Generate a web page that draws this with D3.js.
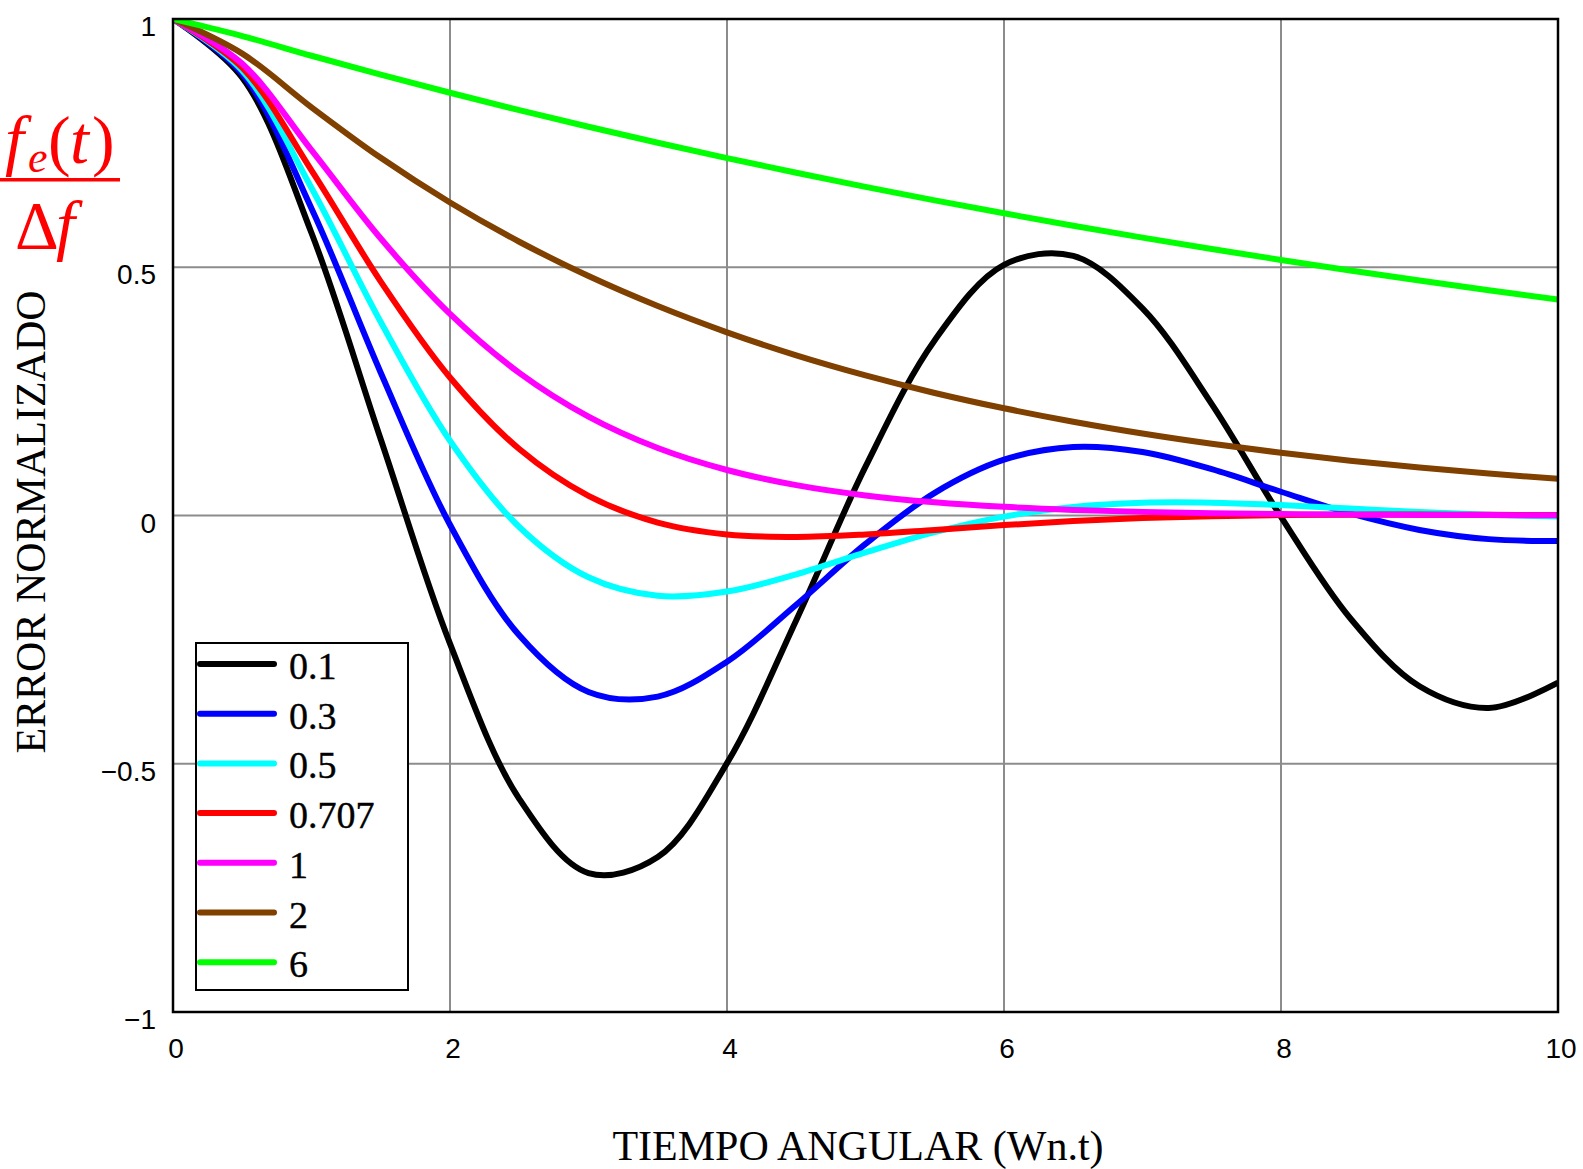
<!DOCTYPE html>
<html>
<head>
<meta charset="utf-8">
<script src="https://cdn.jsdelivr.net/npm/d3@7"></script>
<style>
  html, body { margin: 0; padding: 0; background: #fff; }
  svg { display: block; }
</style>
</head>
<body>
<svg id="chart" width="1583" height="1169"></svg>
<script>
// ---- data ----
const tValues = [0, 0.5, 1, 1.5, 2, 2.5, 3, 3.5, 4, 4.5, 5, 5.5, 6, 6.5, 7, 7.5, 8, 8.5, 9, 9.5, 10];
const seriesLabels = ["0.1", "0.3", "0.5", "0.707", "1", "2", "6"];
const seriesColors = ["#000000", "#0000ff", "#00ffff", "#ff0000", "#ff00ff", "#804000", "#00ff00"];
const zeta01  = [1, 0.8816, 0.5690, 0.1536, -0.2581, -0.5706, -0.7201, -0.6879, -0.4988, -0.2109, 0.0984, 0.3531, 0.5047, 0.5228, 0.4171, 0.2244, -0.0026, -0.2069, -0.3440, -0.3876, -0.3368];
const zeta03  = [1, 0.8889, 0.6183, 0.2875, -0.0187, -0.2414, -0.3555, -0.3647, -0.2945, -0.1798, -0.0573, 0.0457, 0.1124, 0.1381, 0.1279, 0.0932, 0.0478, 0.0041, -0.0291, -0.0476, -0.0513];
const zeta05  = [1, 0.8956, 0.6597, 0.3896, 0.1505, -0.0231, -0.1245, -0.1617, -0.1531, -0.1185, -0.0745, -0.0336, -0.0023, 0.0172, 0.0256, 0.0258, 0.0210, 0.0140, 0.0071, 0.0015, -0.0022];
const zeta0707 = [1, 0.9019, 0.6952, 0.4712, 0.2780, 0.1339, 0.0396, -0.0142, -0.0381, -0.0432, -0.0382, -0.0290, -0.0193, -0.0112, -0.0052, -0.0014, 0.0008, 0.0017, 0.0018, 0.0014, 0.0010];
const zeta1   = [1, 0.9098, 0.7358, 0.5578, 0.4060, 0.2873, 0.1991, 0.1359, 0.0916, 0.0611, 0.0404, 0.0266, 0.0174, 0.0113, 0.0073, 0.0047, 0.0030, 0.0019, 0.0012, 0.0008, 0.0005];
const zeta2   = [1, 0.9303, 0.8222, 0.7204, 0.6304, 0.5514, 0.4822, 0.4218, 0.3689, 0.3226, 0.2822, 0.2468, 0.2159, 0.1888, 0.1651, 0.1444, 0.1263, 0.1104, 0.0966, 0.0845, 0.0739];
const zeta6   = [1, 0.9657, 0.9260, 0.8880, 0.8515, 0.8165, 0.7829, 0.7508, 0.7199, 0.6903, 0.6620, 0.6348, 0.6087, 0.5837, 0.5597, 0.5367, 0.5146, 0.4935, 0.4732, 0.4538, 0.4351];
const seriesValues = [zeta01, zeta03, zeta05, zeta0707, zeta1, zeta2, zeta6];
const xTicks = [0, 2, 4, 6, 8, 10];
const xTickLabels = ["0", "2", "4", "6", "8", "10"];
const yTicks = [-1, -0.5, 0, 0.5, 1];
const yTickLabels = ["\u22121", "\u22120.5", "0", "0.5", "1"];
const xTitle = "TIEMPO ANGULAR (Wn.t)";
const yTitle = "ERROR NORMALIZADO";

// ---- layout ----
const svg = d3.select("#chart");
const x = d3.scaleLinear().domain([0, 10]).range([173, 1558]);
const y = d3.scaleLinear().domain([-1, 1]).range([1012, 19]);
const gridColor = "#8c8c8c";

svg.append("rect").attr("x", 0).attr("y", 0).attr("width", 1583).attr("height", 1169).attr("fill", "#fff");

svg.append("clipPath").attr("id", "plotclip")
  .append("rect").attr("x", x(0)).attr("y", y(1)).attr("width", x(10) - x(0)).attr("height", y(-1) - y(1));

// grid
const grid = svg.append("g");
grid.selectAll("line.gx").data(xTicks.filter(d => d > 0 && d < 10)).enter().append("line")
  .attr("x1", d => x(d)).attr("x2", d => x(d)).attr("y1", y(1)).attr("y2", y(-1))
  .attr("stroke", gridColor).attr("stroke-width", 2);
grid.selectAll("line.gy").data(yTicks.filter(d => d > -1 && d < 1)).enter().append("line")
  .attr("y1", d => y(d)).attr("y2", d => y(d)).attr("x1", x(0)).attr("x2", x(10))
  .attr("stroke", gridColor).attr("stroke-width", 2);

// curves
const line = d3.line().x(d => x(d[0])).y(d => y(d[1])).curve(d3.curveCatmullRom.alpha(0.5));
const curves = svg.append("g").attr("clip-path", "url(#plotclip)");
seriesValues.forEach((vals, i) => {
  curves.append("path")
    .attr("d", line(tValues.map((t, j) => [t, vals[j]])))
    .attr("fill", "none")
    .attr("stroke", seriesColors[i])
    .attr("stroke-width", 6)
    .attr("stroke-linejoin", "round");
});

// legend
const lg = svg.append("g");
lg.append("rect").attr("x", 196).attr("y", 643).attr("width", 212).attr("height", 347)
  .attr("fill", "#fff").attr("stroke", "#000").attr("stroke-width", 2);
seriesLabels.forEach((lab, i) => {
  const ly = 664 + i * 49.7;
  lg.append("line").attr("x1", 200).attr("x2", 274).attr("y1", ly).attr("y2", ly)
    .attr("stroke", seriesColors[i]).attr("stroke-width", 6).attr("stroke-linecap", "round");
  lg.append("text").attr("x", 289).attr("y", ly + 15)
    .attr("font-family", "'Liberation Serif', 'Times New Roman', serif")
    .attr("font-size", 38).attr("fill", "#000")
    .attr("stroke", "#000").attr("stroke-width", 0.4).text(lab);
});

// frame
svg.append("rect").attr("x", x(0)).attr("y", y(1)).attr("width", x(10) - x(0)).attr("height", y(-1) - y(1))
  .attr("fill", "none").attr("stroke", "#000").attr("stroke-width", 2.5);

// tick labels
const tickFont = "'Liberation Sans', Arial, sans-serif";
svg.append("g").selectAll("text").data(xTicks).enter().append("text")
  .attr("x", d => x(d) + 3).attr("y", 1058).attr("text-anchor", "middle")
  .attr("font-family", tickFont).attr("font-size", 28).attr("fill", "#000")
  .text((d, i) => xTickLabels[i]);
svg.append("g").selectAll("text").data(yTicks).enter().append("text")
  .attr("x", 156).attr("y", d => y(d) + 17).attr("text-anchor", "end")
  .attr("font-family", tickFont).attr("font-size", 28).attr("fill", "#000")
  .text((d, i) => yTickLabels[i]);

// axis titles
const serif = "'Liberation Serif', 'Times New Roman', serif";
svg.append("text").attr("x", 858).attr("y", 1160).attr("text-anchor", "middle")
  .attr("font-family", serif).attr("font-size", 42).attr("fill", "#000").text(xTitle);
svg.append("text").attr("transform", "translate(45,522) rotate(-90)").attr("text-anchor", "middle")
  .attr("font-family", serif).attr("font-size", 42).attr("fill", "#000").text(yTitle);

// red fraction f_e(t) / Δf
const red = "#ff0000";
const fr = svg.append("g").attr("fill", red).attr("font-family", serif);
fr.append("text").attr("x", 5).attr("y", 163).attr("font-size", 68).attr("font-style", "italic").text("f");
fr.append("text").attr("x", 28).attr("y", 172).attr("font-size", 44).attr("font-style", "italic").text("e");
fr.append("text").attr("x", 48).attr("y", 163).attr("font-size", 68).text("(");
fr.append("text").attr("x", 70).attr("y", 163).attr("font-size", 68).attr("font-style", "italic").text("t");
fr.append("text").attr("x", 92).attr("y", 163).attr("font-size", 68).text(")");
fr.append("rect").attr("x", 0).attr("y", 178).attr("width", 120).attr("height", 3.5);
fr.append("text").attr("x", 15).attr("y", 248).attr("font-size", 68).text("\u0394");
fr.append("text").attr("x", 56).attr("y", 248).attr("font-size", 68).attr("font-style", "italic").text("f");
</script>
</body>
</html>
